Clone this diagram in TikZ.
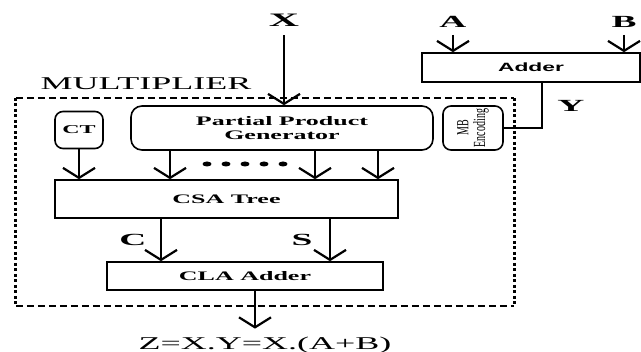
\documentclass[tikz,border=0pt]{standalone}
\usepackage{fontspec}
\setmainfont{Liberation Serif}
\newfontfamily\addersans{Liberation Sans}
\usepackage{graphicx}
\usetikzlibrary{arrows.meta}
\newcommand{\wide}[1]{\scalebox{2}[1]{#1}}
\newcommand{\wider}[1]{\scalebox{2.2}[1]{#1}}

\begin{document}
\begin{tikzpicture}[x=1pt,y=-1pt,>={Straight Barb[length=10pt,width=32pt]},
  blk/.style={draw,line width=1.6pt,inner sep=0pt,font=\fontsize{13}{15}\selectfont\bfseries},
  rblk/.style={blk,rounded corners=11pt},
  lbl/.style={inner sep=0pt,font=\fontsize{17}{19}\selectfont\bfseries},
  big/.style={inner sep=0pt,font=\fontsize{18}{20}\selectfont},
  wire/.style={line width=2.2pt}]
\useasboundingbox (0,0) rectangle (641,352);
\node[lbl,font=\fontsize{19}{21}\selectfont\bfseries] (xlbl) at (284,20) {\wider{X}};
\node[lbl] (albl) at (453,22) {\wider{A}};
\node[lbl] (blbl) at (624,22) {\wider{B}};
\node[blk,minimum width=218,minimum height=29,font=\fontsize{12}{14}\selectfont\addersans\bfseries] (adder) at (531,67.5) {\scalebox{1.9}[1]{Adder}};
\node[lbl] (ylbl) at (571,106) {\wider{Y}};
\node[big] (mlbl) at (146,84) {\wide{MULTIPLIER}};
\node[minimum width=498,minimum height=208,inner sep=0pt] (mult) at (265,202) {};
\node[rblk,rounded corners=8pt,minimum width=48,minimum height=37,font=\fontsize{12}{14}\selectfont\bfseries] (ct) at (79,130) {\wide{CT}};
\node[rblk,minimum width=302,minimum height=44,align=center] (ppg) at (282,128) {\wide{Partial Product}\\[-1pt]\wide{Generator}};
\node[rblk,rounded corners=8pt,minimum width=60,minimum height=44,font=\fontsize{10}{10.5}\selectfont] (mb) at (473,128) {\rotatebox{90}{\scalebox{1}[1.7]{\shortstack{MB\\Encoding}}}};
\node[blk,minimum width=343,minimum height=38] (csa) at (226.5,199) {\wide{CSA Tree}};
\node[blk,minimum width=276,minimum height=28] (cla) at (245,276) {\wide{CLA Adder}};
\node[lbl] (clbl) at (133,240) {\wider{C}};
\node[lbl] (slbl) at (302,240) {\wider{S}};
\node[big] (zlbl) at (265,345) {\wide{Z=X.Y=X.(A+B)}};
\coordinate (p1) at (170,0);
\coordinate (p2) at (315,0);
\coordinate (p3) at (378,0);
\coordinate (cc) at (161,0);
\coordinate (sc) at (330,0);
\coordinate (zc) at (255,0);
\coordinate (ytap) at (542,0);
\draw[line width=1.5pt,dash pattern=on 7pt off 4pt] (mult.north west) -- (mult.north east) (mult.south west) -- (mult.south east);
\draw[line width=3pt,dash pattern=on 3pt off 2.5pt] (mult.north west) -- (mult.south west) (mult.north east) -- (mult.south east);
\draw[wire,->,shorten <=9pt] (xlbl.south) -- (ppg.north -| xlbl.south);
\draw[wire,->,shorten <=7pt] (albl.south) -- (adder.north -| albl.south);
\draw[wire,->,shorten <=7pt] (blbl.south) -- (adder.north -| blbl.south);
\draw[wire] (adder.south -| ytap) |- (mb.east);
\draw[wire,->] (ct.south) -- (csa.north -| ct.south);
\foreach \c in {p1,p2,p3}
  \draw[wire,->] (ppg.south -| \c) -- (csa.north -| \c);
\foreach \i in {0,...,4}
  \fill (207+19*\i,164) ellipse (4.5pt and 2.5pt);
\draw[wire,->] (csa.south -| cc) -- (cla.north -| cc);
\draw[wire,->] (csa.south -| sc) -- (cla.north -| sc);
\draw[wire,->,shorten >=8pt] (cla.south -| zc) -- (zlbl.north -| zc);
\end{tikzpicture}
\end{document}
